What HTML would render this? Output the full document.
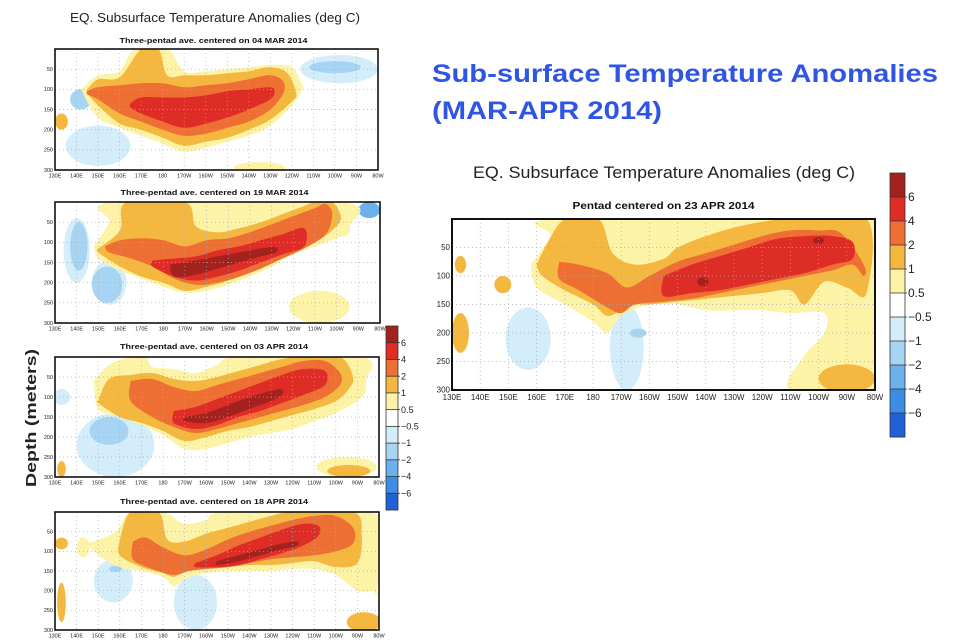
<!DOCTYPE html>
<html><head><meta charset="utf-8"><style>
html,body{margin:0;padding:0;background:#fff;}
svg{display:block;font-family:"Liberation Sans",sans-serif;}
</style></head><body>
<svg id="root" width="958" height="642" viewBox="0 0 958 642">
<text x="215" y="22" font-size="13" text-anchor="middle" textLength="290" lengthAdjust="spacingAndGlyphs" fill="#222">EQ. Subsurface Temperature Anomalies (deg C)</text>
<text x="432" y="82" font-size="25" font-weight="bold" fill="#2f55e4" textLength="506" lengthAdjust="spacingAndGlyphs">Sub-surface Temperature Anomalies</text>
<text x="432" y="119" font-size="25" font-weight="bold" fill="#2f55e4" textLength="230" lengthAdjust="spacingAndGlyphs">(MAR-APR 2014)</text>
<text x="664" y="178" font-size="17" text-anchor="middle" textLength="382" lengthAdjust="spacingAndGlyphs" fill="#222">EQ. Subsurface Temperature Anomalies (deg C)</text>
<text transform="translate(36,418) rotate(-90)" font-size="15" font-weight="bold" text-anchor="middle" fill="#222" textLength="138" lengthAdjust="spacingAndGlyphs">Depth (meters)</text>
<g id="panels"></g>
<g id="cbars"></g>
</svg>
<script>
const NS="http://www.w3.org/2000/svg";
const levelColors={l05:"#fcf3a6",l1:"#f4b840",l2:"#ed6f34",l4:"#de2c27",l6:"#a3221e",b05:"#d3eefa",b1:"#a6d4f2",b2:"#6cb0ec",b4:"#3d8ce6",b6:"#2060d8"};
const lonTicks=[130,140,150,160,170,180,190,200,210,220,230,240,250,260,270,280];
const lonLabels=["130E","140E","150E","160E","170E","180","170W","160W","150W","140W","130W","120W","110W","100W","90W","80W"];
const depthTicks=[50,100,150,200,250,300];
const cbarLabels=["6","4","2","1","0.5","−0.5","−1","−2","−4","−6"];
const cbarKeys=["l6","l4","l2","l1","l05","w","b05","b1","b2","b4","b6"];

// Panel 1: 04 MAR
const p1Layers=[
 ["l05",[[143,95],[150,65],[160,55],[167,0],[182,0],[190,55],[200,55],[210,50],[220,45],[230,40],[240,45],[245,90]],[[245,100],[240,140],[230,190],[220,215],[210,230],[200,245],[190,255],[180,235],[170,215],[160,195],[150,170],[143,110]]],
 ["l1",[[145,100],[150,75],[160,70],[170,0],[178,0],[182,65],[190,65],[200,65],[210,60],[220,55],[230,45],[238,60],[242,110]],[[240,130],[230,175],[220,200],[210,220],[200,230],[190,240],[180,220],[170,200],[160,185],[150,140],[145,110]]],
 ["l2",[[145,105],[150,95],[160,90],[170,85],[180,85],[190,95],[200,90],[210,85],[220,75],[230,65],[236,80]],[[236,110],[230,150],[220,180],[210,195],[200,210],[190,215],[180,200],[170,180],[160,160],[150,125],[145,112]]],
 ["l4",[[165,135],[170,120],[180,120],[190,120],[200,115],[210,105],[220,100],[230,95],[232,105]],[[230,125],[220,150],[210,170],[200,185],[190,195],[180,180],[170,160],[165,145]]]
];
const p1Blobs=[[142,125,5,25,"b1"],[262,50,18,35,"b05"],[260,45,12,15,"b1"],[150,240,15,50,"b05"],[133,180,3,20,"l1"],[225,295,12,15,"l05"]];
// Panel 2: 19 MAR
const p2Layers=[
 ["l05",[[148,110],[155,50],[158,0],[262,0],[266,60]],[[265,80],[260,90],[250,110],[240,130],[230,160],[220,185],[210,205],[200,220],[190,225],[180,210],[170,190],[160,170],[150,140]]],
 ["l1",[[150,115],[160,70],[163,0],[190,0],[195,60],[205,75],[215,65],[225,50],[235,30],[245,10],[250,0],[258,0],[262,40]],[[258,70],[250,100],[240,125],[230,150],[220,175],[210,195],[200,210],[190,220],[180,200],[170,185],[160,160],[150,125]]],
 ["l2",[[153,110],[160,95],[170,90],[180,95],[190,110],[200,95],[210,90],[220,75],[230,55],[240,35],[250,15],[255,5],[258,30]],[[255,80],[245,115],[235,140],[225,165],[215,185],[205,200],[195,205],[185,190],[175,160],[165,140],[155,125]]],
 ["l4",[[175,145],[185,140],[195,135],[205,120],[215,110],[225,95],[235,80],[245,65]],[[245,110],[235,130],[225,150],[215,170],[205,185],[195,195],[185,185],[175,160]]],
 ["l6",[[183,155],[195,145],[205,135],[215,125],[225,115],[232,112]],[[232,125],[225,135],[215,150],[205,165],[195,180],[185,185]]]
];
const p2Blobs=[[140,120,6,80,"b05"],[141,110,4,60,"b1"],[155,200,8,55,"b05"],[154,205,7,45,"b1"],[252,260,14,40,"l05"],[275,20,5,20,"b2"]];
// Panel 3: 03 APR
const p3Layers=[
 ["l05",[[148,60],[155,20],[165,0],[172,0],[175,25],[185,30],[195,40],[205,20],[215,0],[272,0],[274,60]],[[272,100],[260,140],[250,160],[240,180],[230,190],[220,200],[210,215],[200,230],[190,230],[180,195],[170,170],[160,150],[150,130]]],
 ["l1",[[150,110],[155,55],[165,45],[175,40],[185,55],[195,60],[205,50],[215,35],[225,20],[235,5],[245,0],[262,0],[268,50]],[[266,80],[260,110],[250,130],[240,145],[230,160],[220,175],[210,185],[200,200],[190,210],[180,185],[170,165],[160,150],[150,115]]],
 ["l2",[[165,60],[175,55],[185,75],[195,85],[205,70],[215,55],[225,40],[235,25],[245,10],[255,10],[262,40]],[[262,70],[255,100],[245,120],[235,135],[225,150],[215,165],[205,180],[195,190],[185,175],[175,150],[165,110]]],
 ["l4",[[185,135],[195,125],[205,105],[215,85],[225,65],[235,45],[245,30],[255,35]],[[255,70],[245,95],[235,115],[225,135],[215,150],[205,170],[195,180],[185,165]]],
 ["l6",[[190,150],[200,140],[210,120],[220,100],[230,85],[235,80]],[[235,95],[230,110],[220,130],[210,150],[200,165],[190,160]]]
];
const p3Blobs=[[158,220,18,80,"b05"],[155,185,9,35,"b1"],[133,100,4,20,"b05"],[265,275,14,25,"l05"],[266,285,10,15,"l1"],[133,280,2,20,"l1"]];
// Panel 4: 18 APR
const p4Layers=[
 ["l05",[[145,80],[158,50],[165,0],[180,0],[190,30],[200,20],[210,0],[277,0],[279,200]],[[277,200],[270,200],[260,160],[250,145],[240,145],[230,150],[220,150],[210,150],[200,155],[190,170],[185,190],[180,165],[170,150],[160,140],[150,110]]],
 ["l1",[[160,70],[165,0],[178,0],[182,70],[190,75],[200,55],[210,40],[220,25],[230,10],[240,0],[268,0],[272,60]],[[270,130],[260,140],[250,125],[240,130],[230,135],[220,135],[210,140],[200,140],[190,150],[185,165],[180,155],[170,140],[160,110]]],
 ["l2",[[166,75],[172,65],[180,90],[190,110],[200,95],[210,70],[220,50],[230,35],[240,20],[250,10],[260,10],[268,40]],[[268,80],[260,100],[250,110],[240,115],[230,120],[220,130],[210,140],[200,145],[192,150],[185,160],[175,145],[166,120]]],
 ["l4",[[195,130],[205,110],[215,85],[225,65],[235,45],[245,30],[252,35]],[[252,60],[245,85],[235,105],[225,120],[215,135],[205,140],[195,140]]],
 ["l6",[[205,125],[215,110],[225,95],[235,80],[242,75]],[[242,85],[235,95],[225,110],[215,125],[205,135]]]
];
const p4Blobs=[[157,175,9,55,"b05"],[195,230,10,70,"b05"],[158,145,3,8,"b1"],[143,90,3,25,"l05"],[133,80,3,15,"l1"],[133,230,2,50,"l1"],[273,280,8,25,"l1"]];
// Right panel: 23 APR
const p5Layers=[
 ["l05",[[158,80],[165,30],[168,0],[279,0],[280,300]],[[250,300],[255,240],[262,200],[262,165],[250,165],[240,160],[230,160],[220,160],[210,150],[200,150],[190,170],[185,200],[180,180],[170,150],[160,120]]],
 ["l1",[[160,80],[163,50],[170,0],[182,0],[187,60],[195,80],[205,70],[210,50],[220,30],[230,15],[240,5],[250,0],[277,0]],[[277,130],[270,120],[262,110],[255,150],[250,125],[240,130],[230,135],[220,140],[210,145],[200,150],[195,150],[190,160],[185,170],[180,150],[170,125],[162,100]]],
 ["l2",[[168,75],[175,80],[185,95],[192,120],[200,100],[210,75],[220,60],[230,45],[240,30],[250,20],[260,20],[268,25],[276,80]],[[276,100],[272,80],[265,90],[255,100],[245,110],[235,120],[225,130],[215,140],[205,145],[195,150],[190,165],[185,155],[175,125],[168,105]]],
 ["l4",[[205,100],[215,80],[225,65],[235,50],[245,35],[255,30],[265,30],[272,40]],[[272,70],[265,80],[255,95],[245,105],[235,115],[225,125],[215,130],[205,135]]]
];
const p5Blobs=[[219,110,2,8,"l6"],[260,38,2,6,"l6"],[157,210,8,55,"b05"],[192,225,6,75,"b05"],[196,200,3,8,"b1"],[133,200,3,35,"l1"],[133,80,2,15,"l1"],[148,115,3,15,"l1"],[270,280,10,25,"l1"]];

const panels=[
 {name:"panel-04-mar",box:[55,49,378,170],layers:p1Layers,blobs:p1Blobs,sub:"Three-pentad ave. centered on 04 MAR 2014",subY:43,fs:5.5,subW:188},
 {name:"panel-19-mar",box:[55,202,380,323],layers:p2Layers,blobs:p2Blobs,sub:"Three-pentad ave. centered on 19 MAR 2014",subY:195,fs:5.5,subW:188},
 {name:"panel-03-apr",box:[55,357,379,477],layers:p3Layers,blobs:p3Blobs,sub:"Three-pentad ave. centered on 03 APR 2014",subY:349,fs:5.5,subW:188},
 {name:"panel-18-apr",box:[55,512,379,630],layers:p4Layers,blobs:p4Blobs,sub:"Three-pentad ave. centered on 18 APR 2014",subY:504,fs:5.5,subW:188},
 {name:"panel-23-apr",box:[452,219,875,390],layers:p5Layers,blobs:p5Blobs,sub:"Pentad centered on 23 APR 2014",subY:209,fs:8,subW:182}
];

function mk(tag,attrs,parent){const e=document.createElementNS(NS,tag);for(const k in attrs)e.setAttribute(k,attrs[k]);if(parent)parent.appendChild(e);return e;}
function smooth(pts){
 let d="M"+pts[0][0]+","+pts[0][1];
 for(let i=0;i<pts.length-1;i++){
  const p0=pts[i-1]||pts[i],p1=pts[i],p2=pts[i+1],p3=pts[i+2]||p2;
  const c1=[p1[0]+(p2[0]-p0[0])/6,p1[1]+(p2[1]-p0[1])/6],c2=[p2[0]-(p3[0]-p1[0])/6,p2[1]-(p3[1]-p1[1])/6];
  d+=" C"+c1[0].toFixed(1)+","+c1[1].toFixed(1)+" "+c2[0].toFixed(1)+","+c2[1].toFixed(1)+" "+p2[0].toFixed(1)+","+p2[1].toFixed(1);
 }
 return d;
}
const root=document.getElementById("panels");
panels.forEach((p,pi)=>{
 const [x0,y0,x1,y1]=p.box;
 const xs=lon=>x0+(lon-130)/150*(x1-x0);
 const ys=dep=>y0+dep/300*(y1-y0);
 const g=mk("g",{},root);
 
 
 const cid="clip"+pi;
 const cp=mk("clipPath",{id:cid},g);mk("rect",{x:x0,y:y0,width:x1-x0,height:y1-y0},cp);
 const fg=mk("g",{"clip-path":"url(#"+cid+")"},g);
 mk("rect",{x:x0,y:y0,width:x1-x0,height:y1-y0,fill:"#fff"},fg);
 p.blobs.filter(b=>b[4][0]==="b"||b[4]==="l05").forEach(b=>{
  const e=mk("ellipse",{cx:xs(b[0]),cy:ys(b[1]),rx:b[2]/150*(x1-x0),ry:b[3]/300*(y1-y0),fill:levelColors[b[4]]},fg);
  
  
 });
 p.layers.forEach(L=>{
  const pts=L[1].concat(L[2]).map(q=>[xs(q[0]),ys(q[1])]);
  pts.push(pts[0]);
  const e=mk("path",{d:smooth(pts)+"Z",fill:levelColors[L[0]]},fg);
  
  
 });
 p.blobs.filter(b=>!(b[4][0]==="b"||b[4]==="l05")).forEach(b=>{
  const e=mk("ellipse",{cx:xs(b[0]),cy:ys(b[1]),rx:b[2]/150*(x1-x0),ry:b[3]/300*(y1-y0),fill:levelColors[b[4]]},fg);
  
  
 });
 lonTicks.forEach(l=>{if(l>130&&l<280)mk("line",{x1:xs(l),x2:xs(l),y1:y0,y2:y1,stroke:"#aaa","stroke-width":0.7,"stroke-dasharray":"1,3"},fg);});
 depthTicks.forEach(d=>{if(d<300)mk("line",{x1:x0,x2:x1,y1:ys(d),y2:ys(d),stroke:"#aaa","stroke-width":0.7,"stroke-dasharray":"1,3"},fg);});
 const fr=mk("rect",{x:x0,y:y0,width:x1-x0,height:y1-y0,fill:"none",stroke:"#111","stroke-width":pi===4?2:1.6},g);
 
 
 lonTicks.forEach((l,i)=>{
  const t=mk("text",{x:xs(l),y:y1+p.fs+2,"font-size":p.fs,"text-anchor":"middle",fill:"#222"},g);
  t.textContent=lonLabels[i];
  
  
 });
 depthTicks.forEach(d=>{
  const t=mk("text",{x:x0-2,y:ys(d)+p.fs/3,"font-size":p.fs,"text-anchor":"end",fill:"#222"},g);
  t.textContent=d;
  
  
 });
 const s=mk("text",{x:(x0+x1)/2-(pi===4?0:3),y:p.subY,"font-size":pi===4?10:7.5,"font-weight":"bold","text-anchor":"middle",textLength:p.subW,lengthAdjust:"spacingAndGlyphs",fill:"#111"},g);
 s.textContent=p.sub;
 
 
});
const cb=document.getElementById("cbars");
[{x:386,y:326,w:12,h:184,fs:9,name:"left-colorbar"},{x:890,y:173,w:15,h:264,fs:12,name:"right-colorbar"}].forEach(c=>{
 const g=mk("g",{},cb);
 
 
 const bh=c.h/cbarKeys.length;
 cbarKeys.forEach((k,i)=>{
  const r=mk("rect",{x:c.x,y:c.y+i*bh,width:c.w,height:bh+0.3,fill:k==="w"?"#fff":levelColors[k]},g);
  
  
  if(i>0)mk("line",{x1:c.x,x2:c.x+c.w+2,y1:c.y+i*bh,y2:c.y+i*bh,stroke:"#333","stroke-width":0.8},g);
 });
 mk("rect",{x:c.x,y:c.y,width:c.w,height:c.h,fill:"none",stroke:"#333","stroke-width":0.8},g);
 cbarLabels.forEach((t,i)=>{
  const e=mk("text",{x:c.x+c.w+3,y:c.y+(i+1)*bh+c.fs*0.35,"font-size":c.fs,fill:"#222"},g);
  e.textContent=t;
  
  
 });
});
</script>
</body></html>
